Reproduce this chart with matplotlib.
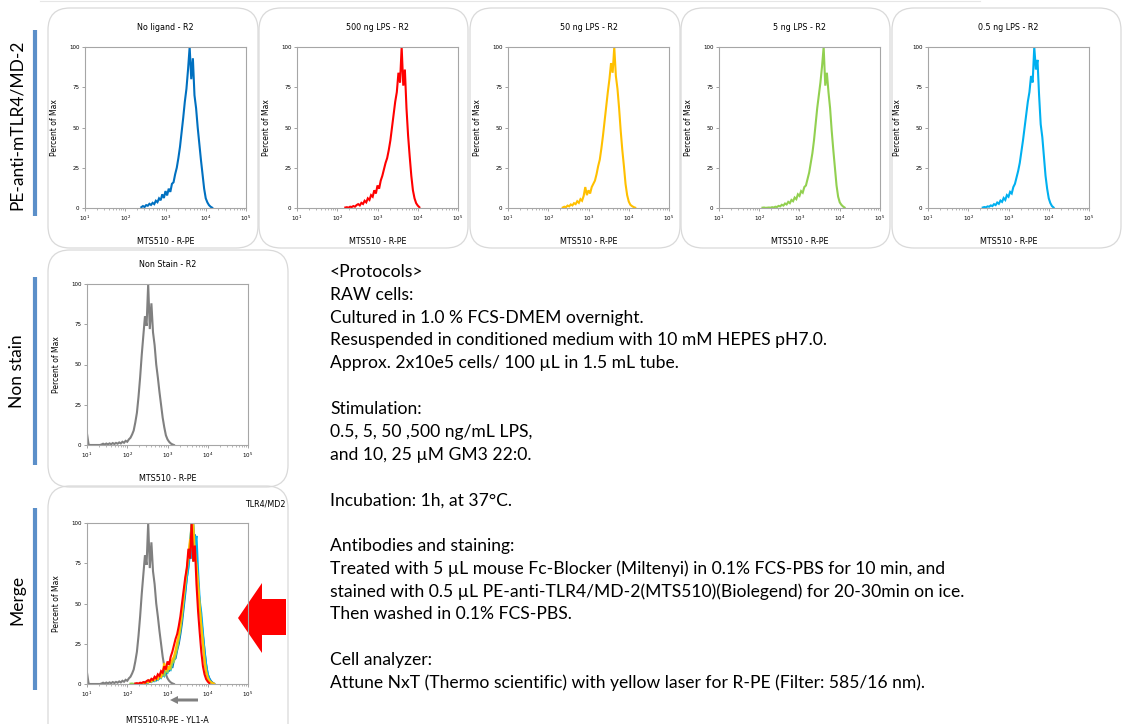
import numpy as np
import matplotlib.pyplot as plt
from matplotlib.patches import FancyBboxPatch, Polygon, FancyArrow

W, H = 1125, 724

# histogram data: log10(R-PE) start, step 0.04, values in percent of max
step = 0.04

no_ligand_start = 2.40
no_ligand = [0.5, 1.2, 0.6, 1.8, 1.4, 2.6, 1.9, 3.2, 2.4, 4.5, 3.6, 6.0, 4.8, 8.5, 6.2,
             10.5, 7.8, 12, 10, 15, 16, 21, 25, 31, 38, 47, 56, 66, 74, 86,
             100, 80, 93, 70, 62, 50, 40, 30, 21, 12, 6, 3.5, 1.8, 0.8, 0.2]

lps500_start = 2.20
lps500 = [0.3, 0.5, 0.2, 0.8, 0.6, 1.2, 0.8, 1.8, 2.4, 1.6, 3.2, 2.5, 4.5, 3.5, 6,
          5, 8, 7, 11, 9, 14, 12, 17, 20, 24, 28, 31, 36, 42, 50,
          58, 66, 72, 84, 78, 100, 76, 86, 62, 45, 32, 20, 11, 6, 3, 1.5, 0.5]

lps50_start = 2.36
lps50 = [0.3, 0.8, 0.5, 1.5, 1.0, 2.2, 1.6, 3.0, 2.4, 4.2, 3.2, 5.5, 4.5, 7.5, 13,
         8, 11, 9, 13, 15, 17, 21, 26, 30, 37, 45, 54, 63, 72, 80,
         90, 84, 100, 82, 74, 62, 48, 36, 26, 15, 8, 4, 2, 1.2, 0.6, 0.2]

lps5_start = 2.08
lps5 = [0.2, 0.3, 0.1, 0.2, 0.3, 0.2, 0.5, 0.3, 0.8, 0.6, 1.3, 1.0, 2.0, 1.5, 2.8,
        2.2, 3.8, 3.0, 5.0, 4.2, 6.5, 5.5, 8.5, 7.5, 10.5, 9.5, 13, 14, 18, 22,
        28, 34, 42, 52, 62, 70, 78, 88, 100, 76, 84, 72, 62, 48, 36,
        25, 14, 7, 3.5, 2, 1, 0.3]

lps05_start = 2.36
lps05 = [0.3, 0.6, 0.4, 1.0, 0.8, 1.6, 1.2, 2.4, 1.8, 3.4, 2.6, 4.6, 3.8, 6.2, 5,
         8, 7, 10, 9, 13, 15, 19, 23, 28, 35, 42, 50, 58, 66, 72,
         82, 78, 100, 86, 92, 70, 52, 44, 32, 20, 12, 6, 3, 1.2, 0.3]

non_stain_start = 1.00
non_stain = [7, 0.2, 0, 0, 0, 0, 0, 0, 0, 0.3, 0.8, 0.3, 0.9, 0.4, 1.0,
             0.5, 1.2, 0.6, 1.3, 0.8, 1.6, 1.0, 2.0, 1.4, 2.6, 2.0, 3.5, 4.5, 6.5, 9,
             14, 20, 30, 42, 56, 68, 80, 74, 100, 72, 88, 70, 62, 50, 42,
             33, 25, 17, 11, 6, 3.5, 2, 1, 0.4, 0]

titles = ["No ligand - R2", "500 ng LPS - R2", "50 ng LPS - R2", "5 ng LPS - R2", "0.5 ng LPS - R2"]
series = [(no_ligand_start, no_ligand), (lps500_start, lps500), (lps50_start, lps50),
          (lps5_start, lps5), (lps05_start, lps05)]
colors = ["#0070C0", "#FF0000", "#FFC000", "#92D050", "#00B0F0"]
gray = "#808080"

protocol_lines = [
    "<Protocols>",
    "RAW cells:",
    "Cultured in 1.0 % FCS-DMEM overnight.",
    "Resuspended in conditioned medium with 10 mM HEPES pH7.0.",
    "Approx. 2x10e5 cells/ 100 \u00b5L in 1.5 mL tube.",
    "",
    "Stimulation:",
    "0.5, 5, 50 ,500 ng/mL LPS,",
    "and 10, 25 \u00b5M GM3 22:0.",
    "",
    "Incubation: 1h, at 37\u00b0C.",
    "",
    "Antibodies and staining:",
    "Treated with 5 \u00b5L mouse Fc-Blocker (Miltenyi) in 0.1% FCS-PBS for 10 min, and",
    "stained with 0.5 \u00b5L PE-anti-TLR4/MD-2(MTS510)(Biolegend) for 20-30min on ice.",
    "Then washed in 0.1% FCS-PBS.",
    "",
    "Cell analyzer:",
    "Attune NxT (Thermo scientific) with yellow laser for R-PE (Filter: 585/16 nm).",
]

fig = plt.figure(figsize=(W / 100, H / 100), dpi=100)

# background layer in pixel coordinates for boxes, labels and arrows
bg = fig.add_axes([0, 0, 1, 1], zorder=0)
bg.set_xlim(0, W)
bg.set_ylim(H, 0)
bg.axis("off")

box_kw = dict(boxstyle="round,pad=0,rounding_size=22", fc="none", ec="#d9d9d9", lw=0.9)
for x0, x1 in [(48, 258), (259, 468), (470, 680), (681, 890), (892, 1121)]:
    bg.add_patch(FancyBboxPatch((x0, 8), x1 - x0, 240, **box_kw))
bg.add_patch(FancyBboxPatch((48, 250), 240, 237, **box_kw))
bg.add_patch(FancyBboxPatch((48, 486), 240, 260, **box_kw))
bg.plot([40, 980], [1, 1], color="#e6e6e6", lw=0.8)

row_labels = [("PE-anti-mTLR4/MD-2", 125, 30, 216), ("Non stain", 371, 277, 465), ("Merge", 600, 508, 690)]
for text, yc, b0, b1 in row_labels:
    bg.text(17, yc, text, rotation=90, ha="center", va="center", fontsize=12.5, family="Lato")
    bg.plot([35, 35], [b0, b1], color="#5B8FC9", lw=3, solid_capstyle="butt")

for i, line in enumerate(protocol_lines):
    bg.text(330, 272 + i * 22.83, line, ha="left", va="center", fontsize=12.6, family="Lato")

# big red arrow next to the merge panel
bg.add_patch(Polygon([(238, 618), (262, 583), (262, 599), (286, 599), (286, 635),
                      (262, 635), (262, 653)], closed=True, fc="#FF0000", ec="none"))
# small gray arrow below merge axis
bg.add_patch(FancyArrow(198, 700, -28, 0, width=3, head_width=8, head_length=8,
                        length_includes_head=True, fc=gray, ec="none"))


def hist_axes(left, top, size=161):
    ax = fig.add_axes([left / W, 1 - (top + size) / H, size / W, size / H], zorder=1)
    ax.set_xscale("log")
    ax.set_xlim(10, 1e5)
    ax.set_ylim(0, 100)
    ax.set_yticks([0, 25, 50, 75, 100])
    ax.patch.set_alpha(0)
    for sp in ax.spines.values():
        sp.set_color("#a6a6a6")
        sp.set_linewidth(0.8)
    ax.tick_params(which="major", labelsize=4, length=2.5, width=0.5, color="#7f7f7f", pad=1.5)
    ax.tick_params(which="minor", length=1.5, width=0.4, color="#7f7f7f")
    ax.set_ylabel("Percent of Max", fontsize=5.5, labelpad=7)
    return ax


def draw(ax, start, vals, color, lw=1.5):
    x = 10 ** (start + step * np.arange(len(vals)))
    ax.plot(x, vals, color=color, lw=lw, solid_joinstyle="miter")


lefts = [85, 297, 508, 719, 928]
for left, title, (start, vals), c in zip(lefts, titles, series, colors):
    ax = hist_axes(left, 47)
    draw(ax, start, vals, c)
    ax.set_title(title, fontsize=5.8, pad=12)
    ax.set_xlabel("MTS510 - R-PE", fontsize=5.8, labelpad=10.5)

ax = hist_axes(87, 284)
draw(ax, non_stain_start, non_stain, gray)
ax.set_title("Non Stain - R2", fontsize=5.8, pad=12)
ax.set_xlabel("MTS510 - R-PE", fontsize=5.8, labelpad=10.5)

ax = hist_axes(87, 523)
draw(ax, non_stain_start, non_stain, gray)
for idx in [0, 4, 3, 2, 1]:
    draw(ax, series[idx][0], series[idx][1], colors[idx])
ax.set_xlabel("MTS510-R-PE - YL1-A", fontsize=5.8, labelpad=12)
bg.text(265, 504, "TLR4/MD2", ha="center", va="center", fontsize=5.8)

fig.savefig("out.png", dpi=100)
